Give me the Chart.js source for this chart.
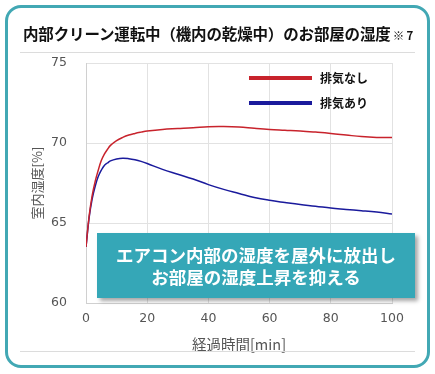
<!DOCTYPE html>
<html><head><meta charset="utf-8">
<script src="https://cdn.jsdelivr.net/npm/chart.js@4.4.1/dist/chart.umd.min.js"></script>
<style>
html,body{margin:0;padding:0;background:#fff;}
#wrap{position:relative;width:435px;height:374px;overflow:hidden;font-family:"Liberation Sans","Noto Sans CJK JP",sans-serif;}
#frame{position:absolute;left:5px;top:5px;width:419px;height:357px;border:3.5px solid #42a8b4;border-radius:16px;box-sizing:content-box;}
#title{position:absolute;left:23px;top:22px;font-size:15.5px;font-weight:bold;color:#111;white-space:nowrap;font-family:"Noto Sans CJK JP",sans-serif;line-height:22px;letter-spacing:-0.15px;}
#title small{font-size:11.5px;font-weight:bold;margin-left:2px;}
.sep{position:absolute;left:20px;width:395px;height:1px;background:#dcdcdc;}
#note{position:absolute;left:97px;top:233px;width:318px;height:65px;background:#35a7b7;color:#fff;font-weight:bold;font-size:17.5px;line-height:22px;text-align:center;box-shadow:3px 3px 4px rgba(0,0,0,0.35);font-family:"Noto Sans CJK JP",sans-serif;display:flex;flex-direction:column;justify-content:center;}
canvas{position:absolute;left:0;top:0;}
</style></head>
<body><div id="wrap">
<canvas id="c" width="435" height="374"></canvas>
<div id="frame"></div>
<div id="title">内部クリーン運転中（機内の乾燥中）のお部屋の湿度<small>※ 7</small></div>
<div class="sep" style="top:52px"></div>
<div class="sep" style="top:351px"></div>
<div id="note"><div>エアコン内部の湿度を屋外に放出し</div><div>お部屋の湿度上昇を抑える</div></div>
</div>
<script>
const times = [0,1,2,3,4,5,6,7,8,10,12,14,16,18,20,25,30,35,40,45,50,55,60,65,70,75,80,85,90,95,100];
const noExhaust = [63.5,65.4,66.7,67.6,68.3,68.9,69.3,69.6,69.85,70.15,70.35,70.5,70.6,70.68,70.75,70.85,70.9,70.95,71.02,71.03,71.0,70.92,70.85,70.8,70.75,70.68,70.6,70.5,70.4,70.35,70.35];
const withExhaust = [63.5,65.3,66.5,67.3,67.9,68.3,68.6,68.75,68.88,69.0,69.05,69.02,68.95,68.85,68.72,68.35,68.05,67.75,67.4,67.1,66.85,66.6,66.42,66.28,66.15,66.05,65.93,65.85,65.77,65.68,65.56];
const seriesLabels = ["排気なし","排気あり"];
const seriesColors = ["#c8232c","#1a1a9c"];
const xTicks = [0,20,40,60,80,100];
const yTicks = [60,65,70,75];
const xTitle = "経過時間[min]";
const yTitle = "室内湿度[%]";

const legendPlugin = {
  id:'customLegend',
  afterDraw(chart){
    const ctx = chart.ctx;
    ctx.save();
    chart.data.datasets.forEach((ds,i)=>{
      const y = 78 + i*25;
      ctx.strokeStyle = ds.borderColor;
      ctx.lineWidth = 4;
      ctx.beginPath(); ctx.moveTo(249,y); ctx.lineTo(312,y); ctx.stroke();
      ctx.fillStyle = '#111';
      ctx.font = 'bold 12px "Noto Sans CJK JP", sans-serif';
      ctx.textBaseline = 'middle';
      ctx.fillText(ds.label, 320, y);
    });
    ctx.restore();
  }
};

new Chart(document.getElementById('c'), {
  type:'line',
  data:{
    datasets:[
      {label:seriesLabels[0], data:times.map((t,i)=>({x:t,y:noExhaust[i]})), borderColor:seriesColors[0], borderWidth:1.5, pointRadius:0, tension:0.4, fill:false},
      {label:seriesLabels[1], data:times.map((t,i)=>({x:t,y:withExhaust[i]})), borderColor:seriesColors[1], borderWidth:1.5, pointRadius:0, tension:0.4, fill:false}
    ]
  },
  options:{
    responsive:false, animation:false, devicePixelRatio:1,
    layout:{padding:{left:0,top:63,right:43,bottom:0}},
    plugins:{legend:{display:false}, tooltip:{enabled:false}},
    scales:{
      x:{type:'linear', min:0, max:100,
        afterBuildTicks(s){ s.ticks = xTicks.map(v=>({value:v})); },
        afterFit(s){ s.height = 71; },
        grid:{color:'#e2e2e2', drawTicks:false},
        border:{color:'#d0d0d0'},
        ticks:{padding:8, color:'#555', font:{size:12.5, family:'"DejaVu Sans", sans-serif'}, maxRotation:0},
        title:{display:true, text:xTitle, color:'#555', font:{size:14.5, family:'"Noto Sans CJK JP", sans-serif'}, padding:{top:0,bottom:21}}
      },
      y:{min:60, max:75,
        afterBuildTicks(s){ s.ticks = yTicks.map(v=>({value:v})); },
        afterFit(s){ s.width = 86; },
        grid:{color:'#e2e2e2', drawTicks:false},
        border:{color:'#d0d0d0'},
        ticks:{padding:19, color:'#555', font:{size:12.5, family:'"DejaVu Sans", sans-serif'}},
        title:{display:true, text:yTitle, color:'#555', font:{size:13, family:'"Noto Sans CJK JP", sans-serif'}, padding:{top:29,bottom:0}}
      }
    }
  },
  plugins:[legendPlugin]
});
</script>
</body></html>
